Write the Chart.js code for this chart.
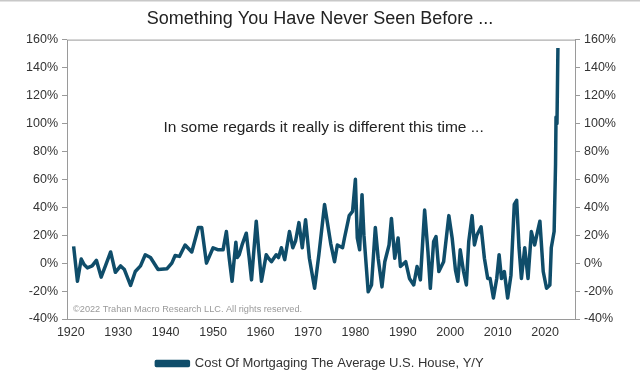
<!DOCTYPE html>
<html>
<head>
<meta charset="utf-8">
<script src="https://cdn.jsdelivr.net/npm/chart.js@4/dist/chart.umd.min.js"></script>
<style>
  html, body { margin: 0; padding: 0; background: #fff; }
  #wrap { width: 640px; height: 391px; }
</style>
</head>
<body>
<div id="wrap"><canvas id="Mortgage"></canvas></div>
<script>
    // values (decimal year, % change y/y)
    var years = [
        1920.6, 1921.4, 1922.2, 1922.8, 1923.5, 1924.5, 1925.4, 1926.4, 1927.3, 1928.4,
        1929.4, 1930.5, 1931.3, 1932.6, 1933.6, 1934.7, 1935.7, 1936.8, 1938.4, 1940.3,
        1941.3, 1942.0, 1942.9, 1944.1, 1945.5, 1946.9, 1947.6, 1948.6, 1950.0, 1951.1,
        1952.1, 1952.8, 1953.4, 1954.0, 1954.8, 1955.1, 1955.5, 1956.2, 1957.0, 1957.6,
        1958.1, 1959.1, 1959.6, 1960.2, 1961.2, 1961.8, 1962.3, 1963.3, 1963.8, 1964.4,
        1965.1, 1966.1, 1966.8, 1967.4, 1968.1, 1968.8, 1969.5, 1970.3, 1971.4, 1972.3,
        1973.5, 1974.1, 1974.8, 1975.6, 1976.2, 1977.3, 1977.7, 1978.7, 1979.4, 1980.0,
        1980.4, 1980.9, 1981.4, 1981.8, 1982.7, 1983.4, 1984.2, 1984.8, 1985.6, 1986.2,
        1987.1, 1987.6, 1988.3, 1989.0, 1989.5, 1990.6, 1991.4, 1992.3, 1993.0, 1993.7,
        1994.6, 1995.3, 1995.8, 1996.5, 1997.0, 1997.6, 1998.6, 1999.7, 2000.4, 2001.1,
        2001.6, 2002.1, 2002.8, 2003.4, 2003.9, 2004.6, 2005.1, 2005.6, 2006.5, 2007.2,
        2007.9, 2008.4, 2009.1, 2009.8, 2010.3, 2010.8, 2011.4, 2012.1, 2012.8, 2013.5,
        2014.0, 2014.5, 2015.0, 2015.7, 2016.4, 2017.1, 2017.8, 2018.4, 2018.9, 2019.6,
        2020.3, 2021.0, 2021.3, 2021.9, 2022.2, 2022.3, 2022.5, 2022.7
    ];
    var cost = [
        12, -13, 3, -1, -3.4, -2, 2, -10, -2, 8,
        -6.6, -2, -4.6, -16, -6, -2, 6, 4, -4.6, -4,
        0, 5.5, 4.8, 13, 8, 25.5, 25.5, 0, 11, 9.5,
        9.5, 22.6, 3.4, -13, 15, 4, 6, 14, 21.4, 4,
        -12, 30, 10, -13, 6, 3, 1, 6, 4, 11,
        2.5, 22.6, 11, 16, 29, 11, 31, 3.5, -18, 6,
        42, 29, 14, 1, 13, 11, 18, 34, 37, 60,
        18, 9.5, 49, 20, -20.5, -15.6, 25.5, 3.5, -17, 1,
        13, 32, 3.5, 18, -2.4, 1, -11, -15.6, -2.4, -12,
        38, 8, -18, 15.5, 19, -6, 1, 34, 18, -5,
        -13, 9.5, -6, -15.6, 15.5, 34, 13, 20, 26, 3.5,
        -11, -11, -25, -11, 6, -11, -6, -25, -8.6, 42,
        45, 11, -11, 11, -11, 22.6, 13, 22.6, 30, -6,
        -18, -15.6, 11, 22.6, 71, 104.6, 100, 154
    ];
    var decadeTicks = [1920, 1930, 1940, 1950, 1960, 1970, 1980, 1990, 2000, 2010, 2020];

    var points = [];
    for (var i in years) {
        points.push({ x: years[i], y: cost[i] });
    }

    var lineColor = '#0f4d6a';
    var axisGray = '#9a9a9a';
    var font = "'Liberation Sans', Arial, sans-serif";

    // frame round plot, top rule, note and copyright text
    var extras = {
        id: 'extras',
        afterDraw: function (chart) {
            var ctx = chart.ctx;
            var a = chart.chartArea;
            ctx.save();
            ctx.strokeStyle = '#c8c8c8';
            ctx.lineWidth = 1.5;
            ctx.beginPath();
            ctx.moveTo(0, 0.8);
            ctx.lineTo(640, 0.8);
            ctx.stroke();

            ctx.strokeStyle = axisGray;
            ctx.lineWidth = 1;
            ctx.strokeRect(a.left + 0.5, a.top + 0.5, a.right - a.left, a.bottom - a.top);

            var xs = chart.scales.x, ys = chart.scales.y;
            ctx.fillStyle = '#222';
            ctx.font = '15.5px ' + font;
            ctx.textAlign = 'center';
            ctx.textBaseline = 'middle';
            ctx.fillText('In some regards it really is different this time ...',
                xs.getPixelForValue(1973.3), ys.getPixelForValue(97));

            ctx.fillStyle = '#9a9a9a';
            ctx.font = '9.2px ' + font;
            ctx.textAlign = 'left';
            ctx.fillText('\u00a92022 Trahan Macro Research LLC. All rights reserved.', a.left + 6, a.bottom - 10);
            ctx.restore();
        }
    };

    var chartdata = {
        datasets: [
            {
                label: 'Cost Of Mortgaging The Average U.S. House, Y/Y',
                data: points,
                borderColor: lineColor,
                backgroundColor: lineColor,
                borderWidth: 3.5,
                pointRadius: 0,
                tension: 0,
                borderJoinStyle: 'round',
                yAxisID: 'y'
            }
        ]
    };

    var yTicks = {
        stepSize: 20,
        color: '#333',
        font: { family: font, size: 12.5 },
        padding: 4,
        callback: function (v) { return v + '%'; }
    };

    new Chart(document.getElementById('Mortgage'), {
        type: 'line',
        data: chartdata,
        plugins: [extras],
        options: {
            responsive: true,
            maintainAspectRatio: false,
            animation: false,
            layout: { padding: { top: 0, bottom: 11, left: 0, right: 0 } },
            plugins: {
                title: {
                    display: true,
                    text: 'Something You Have Never Seen Before ...',
                    color: '#222',
                    font: { family: font, size: 18, weight: 'normal' },
                    padding: { top: 8, bottom: 10 }
                },
                legend: {
                    position: 'bottom',
                    labels: {
                        color: '#333',
                        font: { family: font, size: 13 },
                        boxWidth: 32,
                        boxHeight: 4,
                        padding: 8
                    }
                },
                tooltip: { enabled: false }
            },
            scales: {
                x: {
                    type: 'linear',
                    min: 1919.2,
                    max: 2026.3,
                    grid: { display: false, drawTicks: false },
                    border: { display: false },
                    ticks: {
                        color: '#333',
                        font: { family: font, size: 12.5 },
                        padding: 6,
                        callback: function (v) { return String(v); }
                    },
                    afterBuildTicks: function (scale) {
                        scale.ticks = decadeTicks.map(function (v) { return { value: v }; });
                    },
                    afterFit: function (scale) { scale.height = 30; }
                },
                y: {
                    position: 'left',
                    min: -40,
                    max: 160,
                    grid: { drawOnChartArea: false, color: axisGray, tickLength: 5 },
                    border: { display: false },
                    ticks: yTicks,
                    afterFit: function (scale) { scale.width = 67; }
                },
                y2: {
                    position: 'right',
                    min: -40,
                    max: 160,
                    grid: { drawOnChartArea: false, color: axisGray, tickLength: 5 },
                    border: { display: false },
                    ticks: yTicks,
                    afterFit: function (scale) { scale.width = 65; }
                }
            }
        }
    });
</script>
</body>
</html>
